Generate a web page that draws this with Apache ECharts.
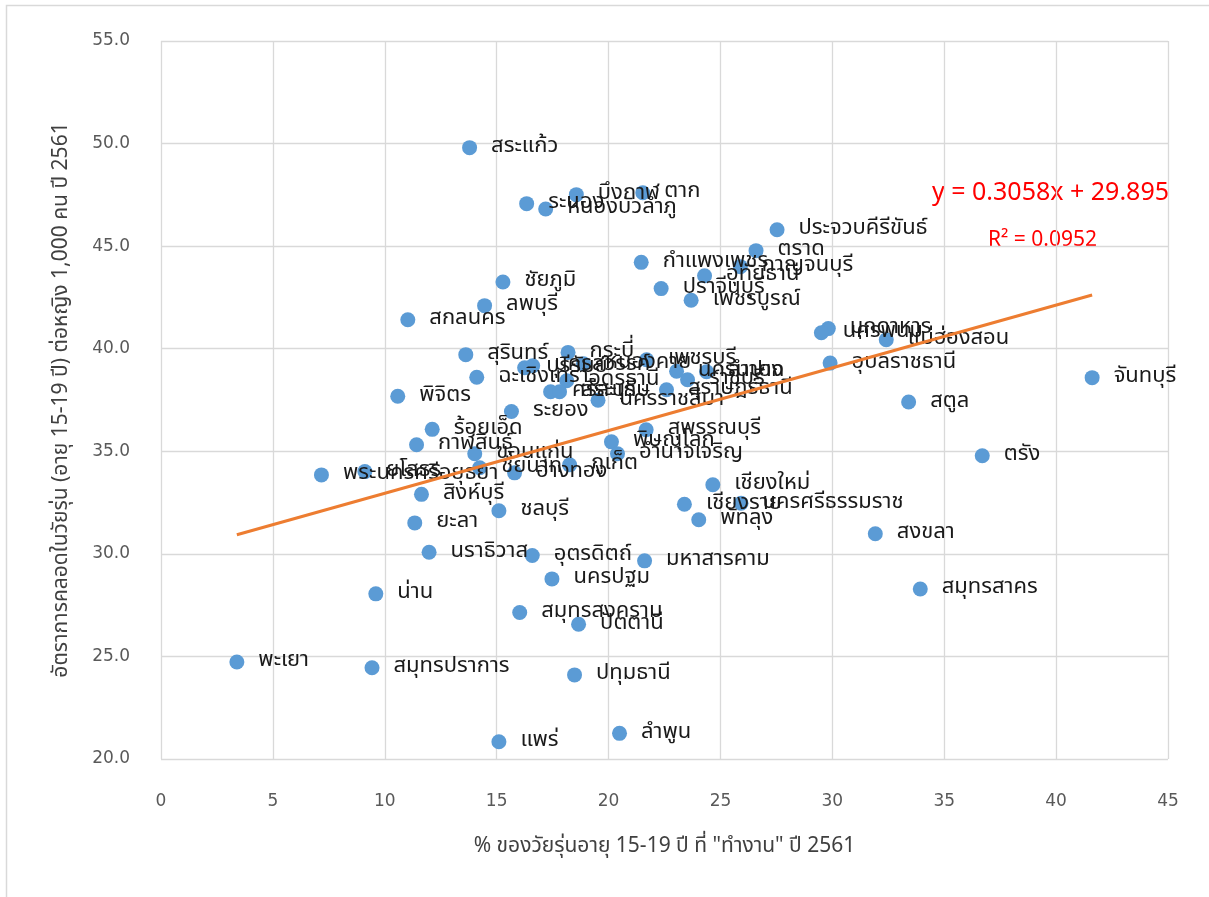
<!DOCTYPE html>
<html>
<head>
<meta charset="utf-8">
<script src="https://cdn.jsdelivr.net/npm/echarts@6/dist/echarts.min.js"></script>
<style>
  html, body { margin: 0; padding: 0; background: #ffffff; }
  #chart { width: 1209px; height: 897px; }
</style>
</head>
<body>
<div id="chart"></div>
<script>
// Provinces, share of teens (15-19) working (%), and teen birth rate per 1,000 women
const provinces = [
  'สระแก้ว', 'ระนอง', 'หนองบัวลำภู', 'บึงกาฬ', 'ตาก', 'ประจวบคีรีขันธ์', 'ตราด', 'กำแพงเพชร',
  'กาญจนบุรี', 'อุทัยธานี', 'ปราจีนบุรี', 'เพชรบูรณ์', 'ชัยภูมิ', 'ลพบุรี', 'สกลนคร', 'มุกดาหาร',
  'นครพนม', 'แม่ฮ่องสอน', 'อุบลราชธานี', 'สตูล', 'จันทบุรี', 'ตรัง', 'สงขลา', 'สมุทรสาคร',
  'สุรินทร์', 'พิจิตร', 'ฉะเชิงเทรา', 'ระยอง', 'ร้อยเอ็ด', 'กระบี่', 'บุรีรัมย์', 'นครสวรรค์',
  'หนองคาย', 'เพชรบุรี', 'นครนายก', 'ลำปาง', 'ราชบุรี', 'สุราษฎร์ธานี', 'อุดรธานี', 'ศรีสะเกษ',
  'สระบุรี', 'นครราชสีมา', 'กาฬสินธุ์', 'ขอนแก่น', 'พระนครศรีอยุธยา', 'ยโสธร', 'ชัยนาท', 'อ่างทอง',
  'ภูเก็ต', 'สิงห์บุรี', 'ชลบุรี', 'ยะลา', 'พิษณุโลก', 'อำนาจเจริญ', 'สุพรรณบุรี', 'เชียงใหม่',
  'เชียงราย', 'นครศรีธรรมราช', 'พัทลุง', 'นราธิวาส', 'อุตรดิตถ์', 'มหาสารคาม', 'นครปฐม', 'น่าน',
  'สมุทรสงคราม', 'ปัตตานี', 'สมุทรปราการ', 'ปทุมธานี', 'แพร่', 'ลำพูน', 'พะเยา'
];
const workPct = [
  13.79, 16.34, 17.19, 18.56, 21.53, 27.53, 26.59, 21.46,
  25.89, 24.29, 22.35, 23.69, 15.28, 14.46, 11.03, 29.82,
  29.51, 32.41, 29.90, 33.41, 41.61, 36.70, 31.92, 33.93,
  13.62, 10.58, 14.11, 15.66, 12.12, 18.19, 16.25, 16.61,
  18.88, 21.70, 23.04, 24.38, 23.53, 22.59, 18.13, 17.41,
  17.81, 19.53, 11.42, 14.02, 7.17, 9.11, 14.24, 15.80,
  18.26, 11.64, 15.10, 11.34, 20.13, 20.40, 21.68, 24.66,
  23.39, 25.92, 24.03, 11.98, 16.59, 21.61, 17.47, 9.60,
  16.03, 18.66, 9.43, 18.48, 15.10, 20.49, 3.39
];
const birthRate = [
  49.80, 47.07, 46.81, 47.51, 47.60, 45.80, 44.78, 44.21,
  44.00, 43.56, 42.93, 42.36, 43.25, 42.10, 41.41, 40.98,
  40.78, 40.44, 39.30, 37.40, 38.59, 34.78, 30.98, 28.29,
  39.71, 37.68, 38.61, 36.94, 36.07, 39.82, 39.07, 39.17,
  39.27, 39.46, 38.90, 38.88, 38.49, 38.00, 38.44, 37.90,
  37.90, 37.49, 35.32, 34.88, 33.85, 34.01, 34.20, 33.95,
  34.34, 32.90, 32.10, 31.51, 35.46, 34.88, 36.05, 33.37,
  32.42, 32.47, 31.66, 30.08, 29.92, 29.66, 28.78, 28.05,
  27.14, 26.57, 24.45, 24.10, 20.84, 21.25, 24.73
];

// Linear trend (Excel-style) as printed on the chart
const trendSlope = 0.3058;
const trendIntercept = 29.895;
const trendText = 'y = 0.3058x + 29.895';
const r2Text = 'R² = 0.0952';

const xAxisTitle = '% ของวัยรุ่นอายุ 15-19 ปี ที่ "ทำงาน" ปี 2561';
const yAxisTitle = 'อัตราการคลอดในวัยรุ่น (อายุ 15-19 ปี) ต่อหญิง 1,000 คน ปี 2561';

const FONT = '"Noto Sans Thai", "Leelawadee UI", Tahoma, "Noto Sans", sans-serif';
const NUM_FONT = '"DejaVu Sans", sans-serif';

const points = provinces.map((name, i) => ({ name: name, value: [workPct[i], birthRate[i]] }));
const xMin = Math.min(...workPct);
const xMax = Math.max(...workPct);
const trendData = [
  [xMin, trendSlope * xMin + trendIntercept],
  [xMax, trendSlope * xMax + trendIntercept]
];

const chart = echarts.init(document.getElementById('chart'), null, { renderer: 'canvas' });

chart.setOption({
  backgroundColor: '#ffffff',
  animation: false,
  grid: { left: 161, right: 41, top: 41, bottom: 138 },
  xAxis: {
    type: 'value',
    min: 0, max: 45, interval: 5,
    name: xAxisTitle,
    nameLocation: 'middle',
    nameGap: 78,
    nameTextStyle: { color: '#404040', fontSize: 21, fontFamily: FONT },
    axisLine: { show: false },
    axisTick: { show: false },
    axisLabel: { color: '#595959', fontSize: 17, margin: 34, fontFamily: NUM_FONT },
    splitLine: { show: true, lineStyle: { color: '#d9d9d9', width: 1.3 } }
  },
  yAxis: {
    type: 'value',
    min: 20, max: 55, interval: 5,
    name: yAxisTitle,
    nameLocation: 'middle',
    nameRotate: 90,
    nameGap: 88,
    nameTextStyle: { color: '#404040', fontSize: 21, fontFamily: FONT },
    axisLine: { show: false },
    axisTick: { show: false },
    axisLabel: {
      color: '#595959', fontSize: 17, margin: 31,
      fontFamily: NUM_FONT,
      formatter: v => v.toFixed(1)
    },
    splitLine: { show: true, lineStyle: { color: '#d9d9d9', width: 1.3 } }
  },
  graphic: [
    {
      type: 'rect', silent: true,
      shape: { x: 6.5, y: 5.5, width: 1400, height: 1000 },
      style: { fill: 'none', stroke: '#d9d9d9', lineWidth: 1.5 }
    },
    {
      type: 'text', left: 932, top: 182,
      style: { text: trendText, fill: '#ff0000', fontSize: 25, fontFamily: FONT }
    },
    {
      type: 'text', left: 988, top: 231,
      style: { text: r2Text, fill: '#ff0000', fontSize: 21, fontFamily: FONT }
    }
  ],
  series: [
    {
      type: 'scatter',
      data: points,
      symbolSize: 15,
      itemStyle: { color: '#5b9bd5', opacity: 1 },
      label: {
        show: true,
        position: 'right',
        distance: 14,
        formatter: p => p.name,
        color: '#1a1a1a',
        fontSize: 22,
        fontFamily: FONT
      },
      labelLayout: { hideOverlap: false },
      z: 3
    },
    {
      type: 'line',
      data: trendData,
      showSymbol: false,
      symbol: 'none',
      lineStyle: { color: '#ed7d31', width: 3 },
      z: 4,
      silent: true
    }
  ]
});
</script>
</body>
</html>
